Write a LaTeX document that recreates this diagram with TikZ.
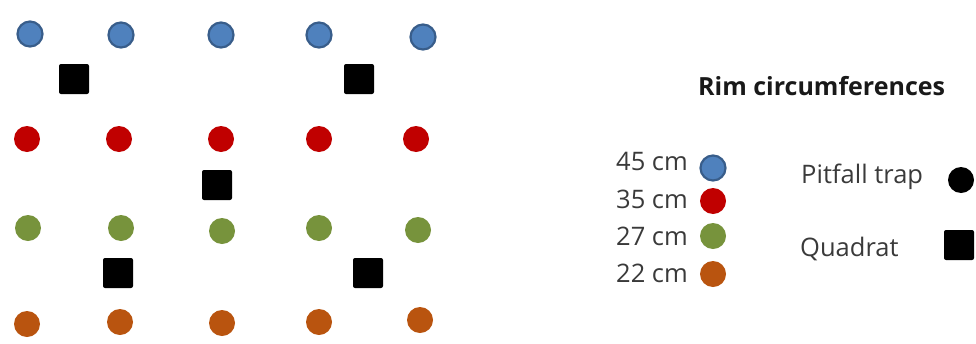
\documentclass[tikz,border=0pt]{standalone}
\usepackage{fontspec}
\setmainfont{Open Sans}
\definecolor{cblue}{HTML}{4F81BD}
\definecolor{cblueline}{HTML}{385D8A}
\definecolor{cred}{HTML}{C00000}
\definecolor{cgreen}{HTML}{77933C}
\definecolor{cbrown}{HTML}{B9540F}
\definecolor{ctext}{HTML}{3A3A3A}
\tikzset{
  dotb/.style={circle,fill=cblue,draw=cblueline,line width=2.2pt,minimum size=25pt,inner sep=0pt},
  dotr/.style={circle,fill=cred,minimum size=26pt,inner sep=0pt},
  dotg/.style={circle,fill=cgreen,minimum size=26pt,inner sep=0pt},
  dotn/.style={circle,fill=cbrown,minimum size=26pt,inner sep=0pt},
  quad/.style={rectangle,rounded corners=2pt,fill=black,minimum size=30pt,inner sep=0pt},
  trap/.style={circle,fill=black,minimum size=26pt,inner sep=0pt},
  lbl/.style={font=\fontsize{25.5}{30}\selectfont,inner sep=0pt,text=ctext},
}
\begin{document}
\begin{tikzpicture}[x=1pt,y=-1pt]
\useasboundingbox (0,0) rectangle (976,343);
% row 1
\node[dotb] (b1) at (30,34) {};
\node[dotb] (b2) at (121,35) {};
\node[dotb] (b3) at (221,35) {};
\node[dotb] (b4) at (319,35) {};
\node[dotb] (b5) at (423,37) {};
% row 2
\node[dotr] (r1) at (27,139) {};
\node[dotr] (r2) at (119,139) {};
\node[dotr] (r3) at (221,139) {};
\node[dotr] (r4) at (319,139) {};
\node[dotr] (r5) at (416,139) {};
% row 3
\node[dotg] (g1) at (28,228) {};
\node[dotg] (g2) at (121,228) {};
\node[dotg] (g3) at (222,231) {};
\node[dotg] (g4) at (319,228) {};
\node[dotg] (g5) at (418,230) {};
% row 4
\node[dotn] (n1) at (27,324) {};
\node[dotn] (n2) at (120,322) {};
\node[dotn] (n3) at (222,323) {};
\node[dotn] (n4) at (319,322) {};
\node[dotn] (n5) at (420,320) {};
% quadrats
\node[quad] (q1) at (74,79) {};
\node[quad] (q2) at (359,79) {};
\node[quad] (q3) at (217,185) {};
\node[quad] (q4) at (118,273) {};
\node[quad] (q5) at (368,273) {};
% legend
\node[font=\fontsize{25}{30}\selectfont\bfseries,inner sep=0pt,anchor=base west,text=black!90] (title) at (698,95) {Rim circumferences};
\node[lbl,anchor=base east] (t45) at (688,170) {45 cm};
\node[lbl,anchor=base east] (t35) at (688,208) {35 cm};
\node[lbl,anchor=base east] (t27) at (688,245) {27 cm};
\node[lbl,anchor=base east] (t22) at (688,282) {22 cm};
\node[dotb] (l45) at (713,168) {};
\node[dotr] (l35) at (713,201) {};
\node[dotg] (l27) at (713,236) {};
\node[dotn] (l22) at (713,274) {};
\node[lbl,anchor=base west] (tpit) at (801,183) {Pitfall trap};
\node[trap] (lpit) at (961,180) {};
\node[lbl,anchor=base west] (tquad) at (800,256) {Quadrat};
\node[quad] (lquad) at (959,245) {};
\end{tikzpicture}
\end{document}
